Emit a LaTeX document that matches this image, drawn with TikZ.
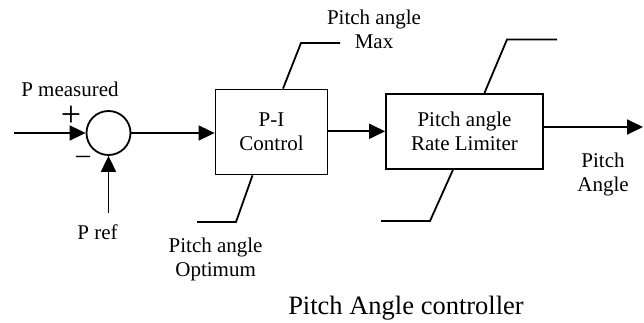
\documentclass[tikz,border=0pt]{standalone}
\usepackage{fontspec}
\setmainfont{Liberation Serif}
\usetikzlibrary{arrows.meta}

\begin{document}
\begin{tikzpicture}[x=1pt, y=-1pt, line width=1.8pt,
	block/.style={draw, inner sep=0pt},
	sig/.style={-{Triangle[length=16pt, width=15pt]}},
	lbl/.style={align=center, font=\fontsize{21}{24}\selectfont},
	sign/.style={inner sep=0pt, font=\fontsize{#1}{#1}\selectfont}]
	\useasboundingbox (0, 0) rectangle (644, 323);
	\node [draw, circle, minimum size=44pt, inner sep=0pt] (sum) at (108.5, 133) {};
	\node [block, lbl, minimum width=112pt, minimum height=85pt] (pic) at (271.5, 132) {P-I\\Control};
	\node [block, lbl, minimum width=157pt, minimum height=75pt] (rate) at (464.5, 131.3) {Pitch angle\\Rate Limiter};
	\coordinate (pmeas) at (14, 133);
	\coordinate (pref) at (108.5, 213);
	\coordinate (out) at (643, 127);
	\draw [sig] (pmeas) -- (sum.west);
	\draw [sig] (pref) -- (sum.south);
	\draw [sig] (sum.east) -- (sum.east -| pic.west);
	\draw [sig] (pic.east |- rate.west) -- (rate.west);
	\draw [sig] (rate.east |- out) -- (out);
	% limits
	\draw ([xshift=11.5pt]pic.north) -- (301, 43) -- (340, 43);
	\draw ([xshift=-19pt]pic.south) -- (236, 222) -- (197, 222);
	\draw ([xshift=20pt]rate.north) -- (507, 39.5) -- (557, 39.5);
	\draw ([xshift=-11.5pt]rate.south) -- (430, 221) -- (381, 221);
	% labels
	\node [lbl] (pmeastxt) at (70, 89) {P measured};
	\node [sign=36] (plus) at (71, 116) {+};
	\node [sign=28] (minus) at (83, 160) {–};
	\node [lbl] (preftxt) at (97.5, 232) {P ref};
	\node [lbl] (maxtxt) at (374, 29) {Pitch angle\\Max};
	\node [lbl] (opttxt) at (215.6, 259) {Pitch angle\\Optimum};
	\node [lbl] (outtxt) at (603, 174.5) {Pitch\\Angle};
	\node [font=\fontsize{26.5}{30}\selectfont] (title) at (406, 308) {Pitch Angle controller};
\end{tikzpicture}
\end{document}
